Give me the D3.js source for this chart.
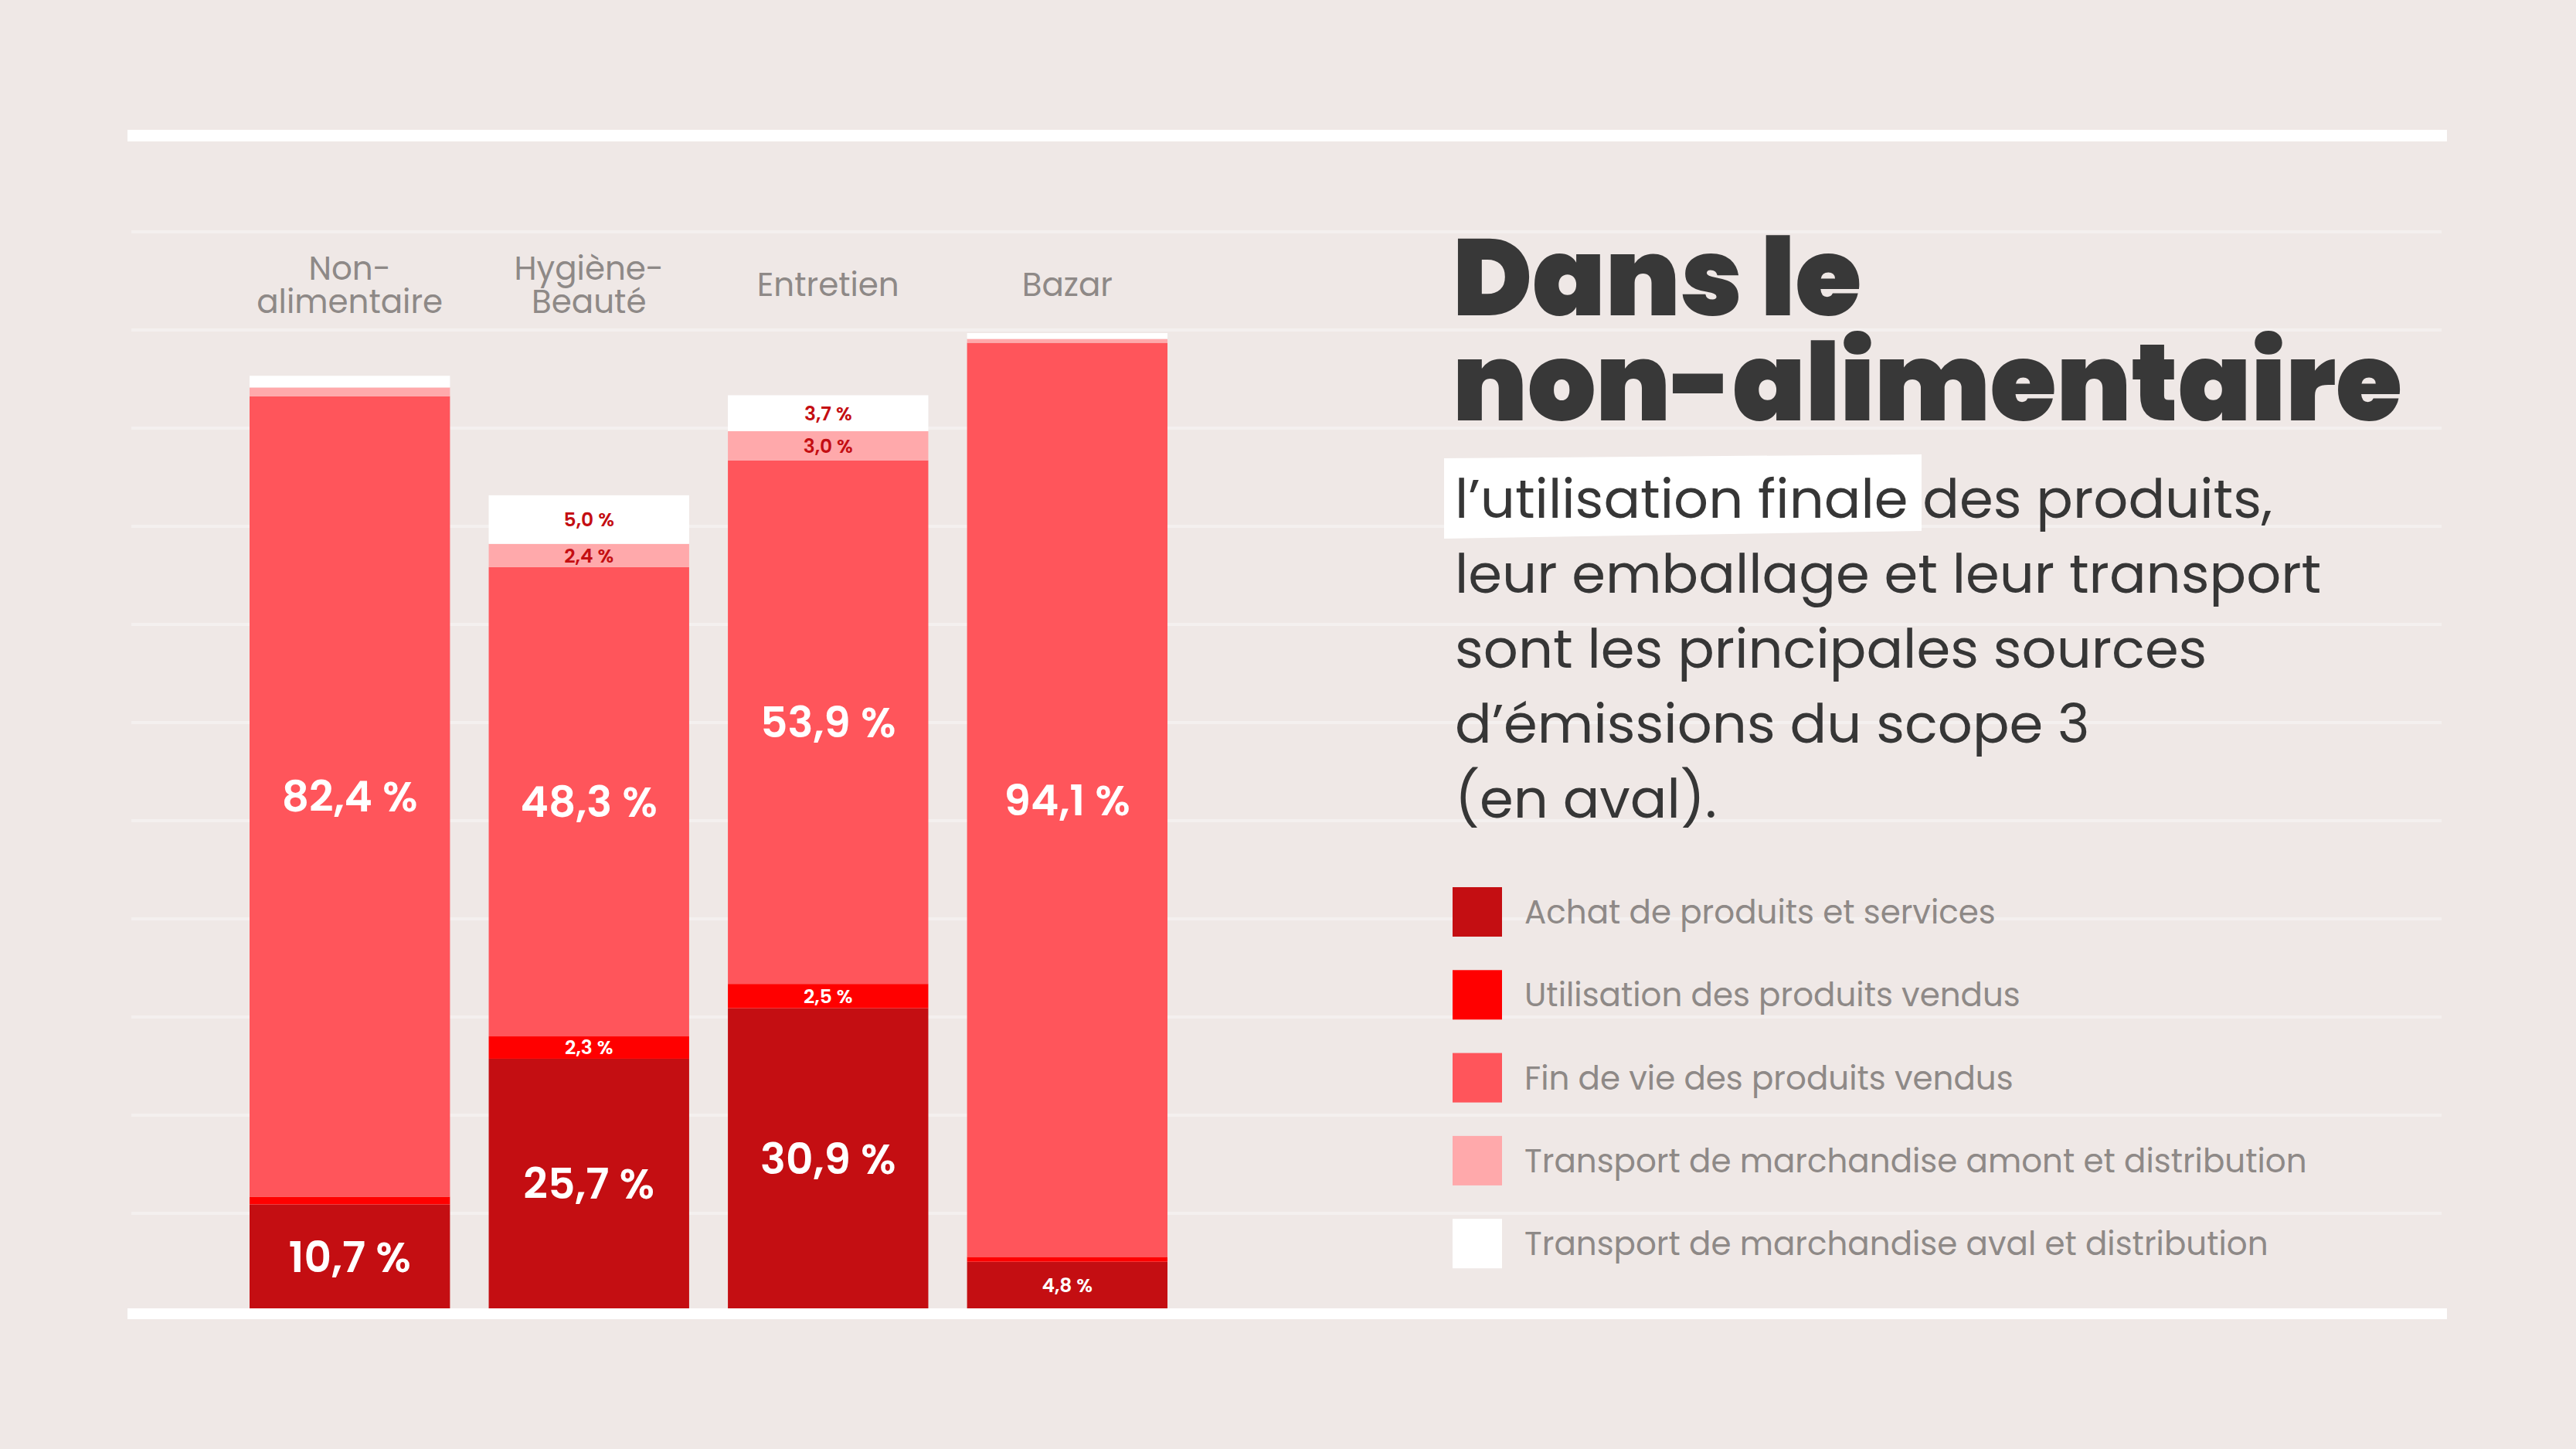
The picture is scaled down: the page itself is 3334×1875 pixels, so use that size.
<!DOCTYPE html>
<html>
<head>
<meta charset="utf-8">
<script src="https://cdn.jsdelivr.net/npm/d3@7"></script>
<style>
  body { margin: 0; background: #efe8e6; }
  svg { display: block; }
</style>
</head>
<body>
<div id="chart-area"></div>
<script>
// categories, one entry per bar (lines of the label)
var categories = ["Non-alimentaire", "Hygiène-Beauté", "Entretien", "Bazar"];
var categoryLines = [["Non-", "alimentaire"], ["Hygiène-", "Beauté"], ["Entretien"], ["Bazar"]];

// series, bottom to top of the stack (in %)
var seriesKeys = ["achat", "utilisation", "finDeVie", "transportAmont", "transportAval"];
var seriesNames = [
    "Achat de produits et services",
    "Utilisation des produits vendus",
    "Fin de vie des produits vendus",
    "Transport de marchandise amont et distribution",
    "Transport de marchandise aval et distribution"
];
var seriesColors = ["#c40e12", "#ff0000", "#ff555b", "#ffa9ab", "#ffffff"];

var achat          = [10.7, 25.7, 30.9, 4.8];
var utilisation    = [0.8, 2.3, 2.5, 0.5];
var finDeVie       = [82.4, 48.3, 53.9, 94.1];
var transportAmont = [0.9, 2.4, 3.0, 0.4];
var transportAval  = [1.2, 5.0, 3.7, 0.6];

var titleLines = ["Dans le", "non-alimentaire"];
var textLines = [
    "l\u2019utilisation finale des produits,",
    "leur emballage et leur transport",
    "sont les principales sources",
    "d\u2019émissions du scope 3",
    "(en aval)."
];

var W = 3334, H = 1875;
var fontStack = "Poppins, Inter, 'Noto Sans', sans-serif";

var svg = d3.select("#chart-area").append("svg")
    .attr("width", W)
    .attr("height", H);

svg.append("rect").attr("width", W).attr("height", H).attr("fill", "#efe8e6");

// faint notebook lines in the background
svg.append("g").selectAll("line")
    .data(d3.range(300, 1650, 127))
    .enter().append("line")
        .attr("x1", 170).attr("x2", 3160)
        .attr("y1", d => d).attr("y2", d => d)
        .attr("stroke", "#ffffff")
        .attr("stroke-opacity", 0.35)
        .attr("stroke-width", 4);

// build the table for d3.stack
var table = categories.map((c, i) => {
    return {
        cat: c,
        achat: achat[i],
        utilisation: utilisation[i],
        finDeVie: finDeVie[i],
        transportAmont: transportAmont[i],
        transportAval: transportAval[i]
    };
});
var stacked = d3.stack().keys(seriesKeys)(table);

var x = d3.scaleBand()
    .domain(categories)
    .range([323, 1511])
    .paddingInner(0.162)
    .paddingOuter(0);

var y = d3.scaleLinear()
    .domain([0, 100])
    .range([1693, 436]);

var color = d3.scaleOrdinal().domain(seriesKeys).range(seriesColors);

var layers = svg.append("g").selectAll("g")
    .data(stacked)
    .enter().append("g")
        .attr("fill", d => color(d.key));

layers.selectAll("rect")
    .data(d => d)
    .enter().append("rect")
        .attr("x", d => x(d.data.cat))
        .attr("width", x.bandwidth())
        .attr("y", d => y(d[1]))
        .attr("height", d => y(d[0]) - y(d[1]));

// value labels
var fmt = d3.formatLocale({ decimal: ",", thousands: " ", grouping: [3], currency: ["", "€"] }).format(".1f");

layers.selectAll("text")
    .data(d => d.map(p => ({ key: d.key, p: p, v: p[1] - p[0] })).filter(o => o.v >= 2))
    .enter().append("text")
        .attr("x", o => x(o.p.data.cat) + x.bandwidth() / 2)
        .attr("y", o => (y(o.p[0]) + y(o.p[1])) / 2)
        .attr("dy", "0.36em")
        .attr("text-anchor", "middle")
        .attr("font-family", fontStack)
        .attr("font-weight", 600)
        .attr("font-size", o => o.v >= 10 ? 55 : 25)
        .attr("fill", o => (o.key === "transportAval" || o.key === "transportAmont") ? "#c40e12" : "#ffffff")
        .text(o => fmt(o.v) + " %");

// category labels
var catG = svg.append("g").selectAll("text")
    .data(categories)
    .enter().append("text")
        .attr("text-anchor", "middle")
        .attr("font-family", fontStack)
        .attr("font-size", 42)
        .attr("fill", "#8e8987");

catG.selectAll("tspan")
    .data((d, i) => categoryLines[i].map((t, j, a) => ({ t: t, cat: d, off: j - (a.length - 1) / 2 })))
    .enter().append("tspan")
        .attr("x", d => x(d.cat) + x.bandwidth() / 2)
        .attr("y", d => 383 + d.off * 43)
        .text(d => d.t);

// white rules top and bottom
svg.append("rect").attr("x", 165).attr("y", 168).attr("width", 3002).attr("height", 15).attr("fill", "#ffffff");
svg.append("rect").attr("x", 165).attr("y", 1693).attr("width", 3002).attr("height", 14).attr("fill", "#ffffff");

// title
svg.append("g").selectAll("text")
    .data(titleLines)
    .enter().append("text")
        .attr("x", 1880)
        .attr("y", (d, i) => 408 + i * 136)
        .attr("font-family", fontStack)
        .attr("font-weight", 900)
        .attr("font-size", 139)
        .attr("letter-spacing", 0)
        .attr("fill", "#383838")
        .text(d => d);

// highlight behind "l'utilisation finale"
svg.append("polygon")
    .attr("points", "1869,593 2487,588 2487,687 1869,697")
    .attr("fill", "#ffffff");

svg.append("g").selectAll("text")
    .data(textLines)
    .enter().append("text")
        .attr("x", 1883)
        .attr("y", (d, i) => 670 + i * 97)
        .attr("font-family", fontStack)
        .attr("font-size", 70.5)
        .attr("fill", "#363636")
        .text(d => d);

// legend
var legend = svg.append("g").selectAll("g")
    .data(seriesNames)
    .enter().append("g")
        .attr("transform", (d, i) => "translate(1880," + (1148 + i * 107.3) + ")");

legend.append("rect")
    .attr("width", 64)
    .attr("height", 64)
    .attr("fill", (d, i) => seriesColors[i]);

legend.append("text")
    .attr("x", 93)
    .attr("y", 32)
    .attr("dy", "0.36em")
    .attr("font-family", fontStack)
    .attr("font-size", 42)
    .attr("fill", "#8e8987")
    .text(d => d);
</script>
</body>
</html>
